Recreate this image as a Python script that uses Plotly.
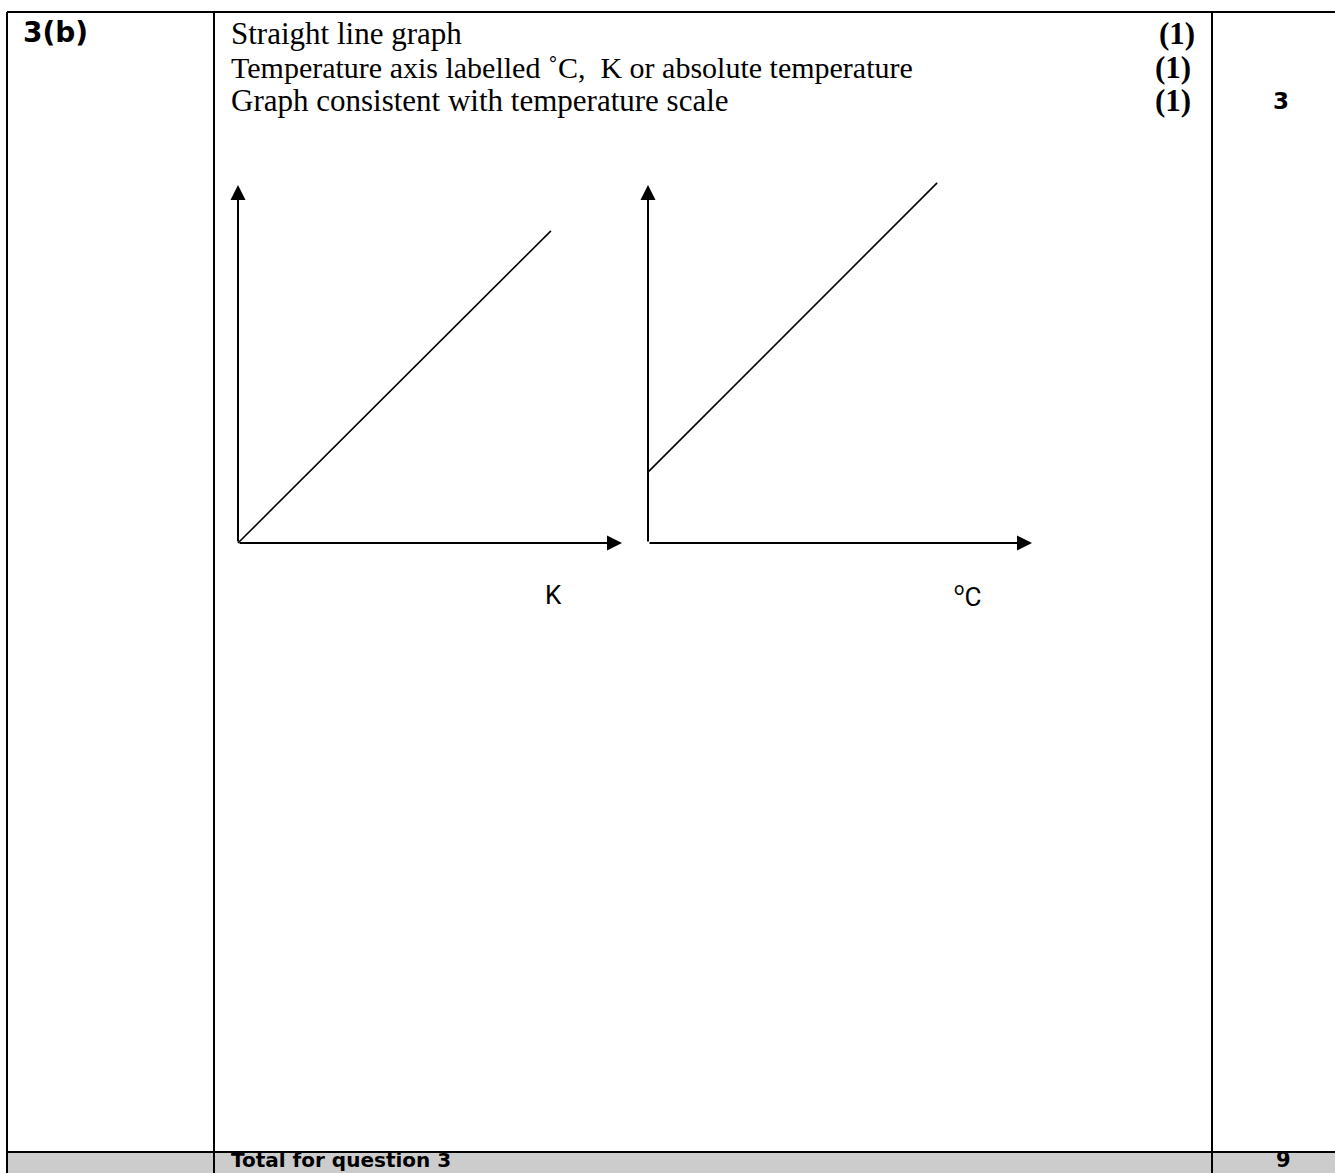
import plotly.graph_objects as go

W, H = 1335, 1173

# mark scheme rows
question = "3(b)"
criteria = [
    "Straight line graph",
    "Temperature axis labelled ˚C,  K or absolute temperature",
    "Graph consistent with temperature scale",
]
marks = ["(1)", "(1)", "(1)"]
row_total = "3"
total_label = "Total for question 3"
total_marks = "9"

# sketch graphs (arbitrary units, axes run 0..100)
kelvin_x = [0, 81.5]
kelvin_y = [0, 87.2]
celsius_x = [0, 75.3]
celsius_y = [19.8, 100.6]
axis_labels = ["K", "<sup>o</sup>C"]

serif = "Liberation Serif"
sans_bold = "DejaVu Sans"

fig = go.Figure()

# invisible trace so the base pixel axis exists
fig.add_trace(go.Scatter(x=[0, W], y=[0, H], mode="markers",
                         marker=dict(opacity=0), hoverinfo="skip",
                         showlegend=False, xaxis="x", yaxis="y"))

fig.add_trace(go.Scatter(x=kelvin_x, y=kelvin_y, mode="lines",
                         line=dict(color="black", width=1.6),
                         showlegend=False, xaxis="x2", yaxis="y2"))
fig.add_trace(go.Scatter(x=celsius_x, y=celsius_y, mode="lines",
                         line=dict(color="black", width=1.6),
                         showlegend=False, xaxis="x3", yaxis="y3"))

def dom_x(p0, p1):
    return [p0 / W, p1 / W]

def dom_y(p_bottom, p_top):
    return [1 - p_bottom / H, 1 - p_top / H]

# graph axis pixel positions: origin and arrow tips, with 3-unit padding
pad = 3
def graph_domain(x0, x1, y0, y1):
    sx = (x1 - x0) / 100
    sy = (y0 - y1) / 100
    return dom_x(x0 - pad * sx, x1 + pad * sx), dom_y(y0 + pad * sy, y1 - pad * sy)

d1x, d1y = graph_domain(238, 622, 543, 185)
d2x, d2y = graph_domain(648, 1032, 543, 185)

hidden = dict(visible=False, showgrid=False, zeroline=False, fixedrange=True)

fig.update_layout(
    width=W, height=H,
    margin=dict(l=0, r=0, t=0, b=0),
    paper_bgcolor="white", plot_bgcolor="rgba(0,0,0,0)",
    xaxis=dict(range=[0, W], domain=[0, 1], **hidden),
    yaxis=dict(range=[H, 0], domain=[0, 1], **hidden),
    xaxis2=dict(range=[-pad, 100 + pad], domain=d1x, anchor="y2", **hidden),
    yaxis2=dict(range=[-pad, 100 + pad], domain=d1y, anchor="x2", **hidden),
    xaxis3=dict(range=[-pad, 100 + pad], domain=d2x, anchor="y3", **hidden),
    yaxis3=dict(range=[-pad, 100 + pad], domain=d2y, anchor="x3", **hidden),
)

# table
line = dict(color="black", width=2)
shapes = [
    dict(type="rect", xref="x", yref="y", x0=7, x1=W, y0=1152, y1=H,
         fillcolor="#cccccc", line=dict(width=0), layer="below"),
    dict(type="line", xref="x", yref="y", x0=7, x1=W, y0=12, y1=12, line=line),
    dict(type="line", xref="x", yref="y", x0=7, x1=7, y0=12, y1=H, line=line),
    dict(type="line", xref="x", yref="y", x0=214, x1=214, y0=12, y1=H, line=line),
    dict(type="line", xref="x", yref="y", x0=1212, x1=1212, y0=12, y1=H, line=line),
    dict(type="line", xref="x", yref="y", x0=7, x1=W, y0=1152, y1=1152, line=line),
]
fig.update_layout(shapes=shapes)

ann = []
ann.append(dict(text=f"<b>{question}</b>", x=21, y=32, xref="x", yref="y",
                xanchor="left", yanchor="middle", showarrow=False,
                font=dict(family=sans_bold, size=28, color="black")))
row_y = [33, 67, 100]
row_size = [31, 30, 31]
mark_x = [1157, 1153, 1153]
for txt, mk, yy, mx, fs in zip(criteria, marks, row_y, mark_x, row_size):
    ann.append(dict(text=txt, x=229, y=yy, xref="x", yref="y",
                    xanchor="left", yanchor="middle", showarrow=False,
                    font=dict(family=serif, size=fs, color="black")))
    ann.append(dict(text=f"<b>{mk}</b>", x=mx, y=yy, xref="x", yref="y",
                    xanchor="left", yanchor="middle", showarrow=False,
                    font=dict(family=serif, size=31, color="black")))
ann.append(dict(text=f"<b>{row_total}</b>", x=1281, y=101, xref="x", yref="y",
                xanchor="center", yanchor="middle", showarrow=False,
                font=dict(family=sans_bold, size=23, color="black")))
# bottom grey row (only ~21px of it is visible)
ann.append(dict(text=f"<b>{total_label}</b>", x=229, y=1160, xref="x", yref="y",
                xanchor="left", yanchor="middle", showarrow=False,
                font=dict(family=sans_bold, size=20, color="black")))
ann.append(dict(text=f"<b>{total_marks}</b>", x=1283, y=1160, xref="x", yref="y",
                xanchor="center", yanchor="middle", showarrow=False,
                font=dict(family=sans_bold, size=21, color="black")))

# graph axes with arrowheads
for xa, ya in [("x2", "y2"), ("x3", "y3")]:
    for tip in [(0, 100), (100, 0)]:
        ann.append(dict(x=tip[0], y=tip[1], ax=0, ay=0, xref=xa, yref=ya,
                        axref=xa, ayref=ya, text="", showarrow=True,
                        arrowhead=2, arrowsize=1.5, arrowwidth=2,
                        arrowcolor="black", standoff=0, startstandoff=0))

ann.append(dict(text=axis_labels[0], x=553, y=595, xref="x", yref="y",
                xanchor="center", yanchor="middle", showarrow=False,
                font=dict(family="Liberation Sans Narrow, Roboto", size=26, color="black")))
ann.append(dict(text=axis_labels[1], x=967, y=595, xref="x", yref="y",
                xanchor="center", yanchor="middle", showarrow=False,
                font=dict(family="Liberation Sans Narrow, Roboto", size=26, color="black")))

fig.update_layout(annotations=ann)

# page body has a default 8px margin; remove it so the figure sits at 0,0
fig.write_html("out.html", config={"displayModeBar": False},
               post_script="document.body.style.margin='0';")
